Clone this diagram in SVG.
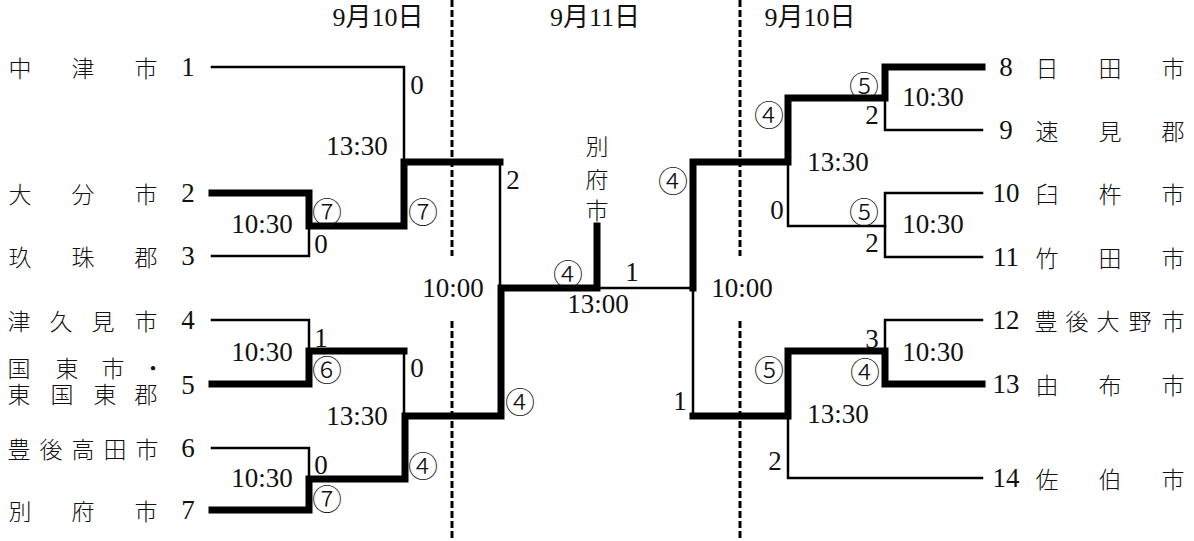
<svg xmlns="http://www.w3.org/2000/svg" width="1194" height="541" viewBox="0 0 1194 541">
<style>
.bg{fill:#fff}
.thin{fill:none;stroke:#000;stroke-width:2.5;stroke-linecap:square;stroke-linejoin:miter}
.thick{fill:none;stroke:#000;stroke-width:7;stroke-linecap:square;stroke-linejoin:miter}
.dash{fill:none;stroke:#000;stroke-width:3;stroke-dasharray:7 3}
.j{font-family:"Noto Sans CJK JP",sans-serif;font-size:23px;font-weight:300;fill:#111;text-anchor:middle;dominant-baseline:central}
.n{font-family:"Liberation Serif",serif;font-size:27px;fill:#111;text-anchor:middle;dominant-baseline:central}
.c{font-family:"Noto Sans CJK JP",sans-serif;font-size:30px;fill:#111;text-anchor:middle;dominant-baseline:central;font-weight:300}
.d{font-family:"Liberation Serif","Noto Sans CJK JP",serif;font-size:26px;fill:#111;text-anchor:middle;dominant-baseline:central}
</style>
<rect class="bg" x="0" y="0" width="1194" height="541"/>

<g id="day-dividers">
  <path class="dash" d="M452 0V256M452 321V541M740 0V256M740 321V541"/>
  <text class="d" x="378" y="17">9月10日</text>
  <text class="d" x="595" y="17">9月11日</text>
  <text class="d" x="810" y="17">9月10日</text>
</g>

<g id="connectors">
  <path class="thin" d="M212 67H404V162"/>
  <path class="thin" d="M212 256H309V226"/>
  <path class="thick" d="M212 193H309V226H404V162H500"/>
  <path class="thin" d="M500 162V288"/>
  <path class="thin" d="M212 320H309V351"/>
  <path class="thick" d="M212 384H309V351H404"/>
  <path class="thin" d="M404 351V416"/>
  <path class="thin" d="M212 448H309V479"/>
  <path class="thick" d="M212 510H309V479H405V416H501V288H597V226"/>
  <path class="thin" d="M597 288H693"/>
  <path class="thick" d="M693 288V162H788V98H885V67H982"/>
  <path class="thin" d="M885 98V130H982"/>
  <path class="thin" d="M788 162V226H885"/>
  <path class="thin" d="M982 193H885V257H982"/>
  <path class="thin" d="M693 288V416"/>
  <path class="thick" d="M693 416H788V351H885V384H982"/>
  <path class="thin" d="M885 351V320H982"/>
  <path class="thin" d="M788 416V478H982"/>
</g>

<g id="team-1"><text class="j" x="20 83 146" y="67">中津市</text><text class="n" x="188" y="67">1</text></g>
<g id="team-2"><text class="j" x="20 83 146" y="193">大分市</text><text class="n" x="188" y="193">2</text></g>
<g id="team-3"><text class="j" x="20 83 146" y="256">玖珠郡</text><text class="n" x="188" y="256">3</text></g>
<g id="team-4"><text class="j" x="19 61 103 146" y="320">津久見市</text><text class="n" x="188" y="320">4</text></g>
<g id="team-5"><text class="j" x="19 67 113 153" y="367">国東市・</text><text class="j" x="19 62 105 146" y="393">東国東郡</text><text class="n" x="188" y="385">5</text></g>
<g id="team-6"><text class="j" x="19 51 83 115 147" y="448">豊後高田市</text><text class="n" x="188" y="448">6</text></g>
<g id="team-7"><text class="j" x="20 83 146" y="510">別府市</text><text class="n" x="188" y="510">7</text></g>

<g id="team-8"><text class="n" x="1006" y="67">8</text><text class="j" x="1047 1110 1173" y="67">日田市</text></g>
<g id="team-9"><text class="n" x="1006" y="130">9</text><text class="j" x="1047 1110 1173" y="130">速見郡</text></g>
<g id="team-10"><text class="n" x="1006" y="193">10</text><text class="j" x="1047 1110 1173" y="193">臼杵市</text></g>
<g id="team-11"><text class="n" x="1006" y="257">11</text><text class="j" x="1047 1110 1173" y="257">竹田市</text></g>
<g id="team-12"><text class="n" x="1006" y="320">12</text><text class="j" x="1046 1077 1108 1140 1173" y="320">豊後大野市</text></g>
<g id="team-13"><text class="n" x="1006" y="384">13</text><text class="j" x="1047 1110 1173" y="384">由布市</text></g>
<g id="team-14"><text class="n" x="1006" y="478">14</text><text class="j" x="1047 1110 1173" y="478">佐伯市</text></g>

<g id="champion"><text class="j" x="597" y="145">別</text><text class="j" x="597" y="178">府</text><text class="j" x="597" y="209">市</text></g>

<g id="labels">
  <text class="n" x="262" y="224">10:30</text>
  <text class="n" x="262" y="352">10:30</text>
  <text class="n" x="262" y="478">10:30</text>
  <text class="n" x="357" y="146">13:30</text>
  <text class="n" x="357" y="416">13:30</text>
  <text class="n" x="453" y="288">10:00</text>
  <text class="n" x="598" y="304">13:00</text>
  <text class="n" x="742" y="288">10:00</text>
  <text class="n" x="838" y="162">13:30</text>
  <text class="n" x="838" y="414">13:30</text>
  <text class="n" x="933" y="97">10:30</text>
  <text class="n" x="933" y="224">10:30</text>
  <text class="n" x="933" y="352">10:30</text>
  <text class="n" x="417" y="85">0</text>
  <text class="n" x="321" y="244">0</text>
  <text class="n" x="321" y="338">1</text>
  <text class="n" x="417" y="368">0</text>
  <text class="n" x="321" y="465">0</text>
  <text class="n" x="513" y="180">2</text>
  <text class="n" x="632" y="272">1</text>
  <text class="n" x="680" y="401">1</text>
  <text class="n" x="872" y="115">2</text>
  <text class="n" x="777" y="210">0</text>
  <text class="n" x="872" y="243">2</text>
  <text class="n" x="872" y="339">3</text>
  <text class="n" x="775" y="461">2</text>
  <text class="c" x="327" y="210">⑦</text>
  <text class="c" x="423" y="210">⑦</text>
  <text class="c" x="327" y="368">⑥</text>
  <text class="c" x="327" y="497">⑦</text>
  <text class="c" x="423" y="464">④</text>
  <text class="c" x="520" y="400">④</text>
  <text class="c" x="568" y="272">④</text>
  <text class="c" x="673" y="179">④</text>
  <text class="c" x="769" y="113">④</text>
  <text class="c" x="864" y="84">⑤</text>
  <text class="c" x="864" y="210">⑤</text>
  <text class="c" x="769" y="368">⑤</text>
  <text class="c" x="865" y="370">④</text>
</g>
</svg>
